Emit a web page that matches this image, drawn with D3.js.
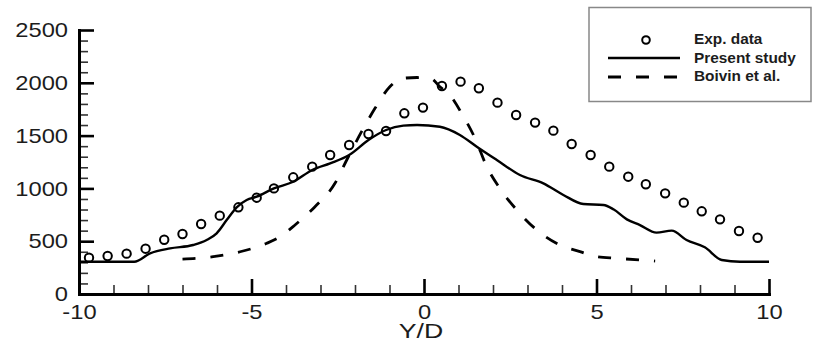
<!DOCTYPE html>
<html>
<head>
<meta charset="utf-8">
<script src="https://cdn.jsdelivr.net/npm/d3@7"></script>
<style>
  html, body { margin: 0; padding: 0; background: #fff; }
  svg { display: block; }
  text { font-family: "Liberation Sans", Arial, Helvetica, sans-serif; fill: #1c1c1c; }
</style>
</head>
<body>
<svg id="chart" width="813" height="353"></svg>
<script>
// Experimental measurements (Y/D, value)
const expY = [-9.71, -9.17, -8.62, -8.07, -7.53, -7.0, -6.46, -5.92, -5.38, -4.85, -4.35, -3.79, -3.24, -2.72, -2.17, -1.61, -1.10, -0.57, -0.03, 0.52, 1.06, 1.59, 2.13, 2.67, 3.22, 3.75, 4.28, 4.83, 5.37, 5.92, 6.43, 6.99, 7.53, 8.05, 8.58, 9.13, 9.67];
const expV = [344, 360, 382, 429, 514, 568, 663, 742, 821, 912, 1000, 1105, 1206, 1316, 1411, 1515, 1544, 1711, 1765, 1970, 2011, 1948, 1812, 1695, 1623, 1547, 1420, 1316, 1206, 1111, 1039, 953, 865, 783, 707, 597, 533];

// Present study profile
const presY = [-10, -8.4, -7.94, -7.36, -6.69, -6.3, -6.01, -5.72, -5.43, -5.14, -4.85, -4.35, -3.79, -3.24, -2.72, -2.17, -1.61, -1.1, -0.6, -0.2, 0.46, 1.04, 1.53, 2.11, 2.78, 3.46, 4.04, 4.62, 5.2, 5.49, 5.88, 6.26, 6.74, 7.18, 7.61, 8.14, 8.63, 9.16, 10];
const presV = [306, 306, 385, 432, 464, 511, 575, 700, 821, 890, 922, 1000, 1063, 1174, 1237, 1316, 1458, 1553, 1594, 1600, 1584, 1506, 1395, 1269, 1127, 1048, 938, 852, 843, 802, 707, 653, 581, 600, 511, 442, 322, 306, 306];

// Boivin et al. profile
const boivY = [-7.0, -6.11, -5.33, -4.56, -4.17, -3.74, -3.16, -2.58, -2.24, -1.81, -1.42, -0.99, -0.6, -0.2, 0.2, 0.46, 0.75, 1.09, 1.48, 1.82, 2.2, 2.69, 3.27, 3.94, 4.52, 5.0, 5.59, 6.7];
const boivV = [331, 353, 400, 480, 543, 653, 827, 1048, 1269, 1537, 1758, 1963, 2043, 2050, 2040, 1963, 1884, 1711, 1474, 1206, 1000, 795, 606, 464, 401, 353, 338, 312];

const xTicks = [-10, -5, 0, 5, 10];
const yTicks = [0, 500, 1000, 1500, 2000, 2500];
const legendLabels = ["Exp. data", "Present study", "Boivin et al."];
const xLabel = "Y/D";

const svg = d3.select("#chart");
const x = d3.scaleLinear().domain([-10, 10]).range([79, 769]);
const y = d3.scaleLinear().domain([0, 2500]).range([294, 30]);

const stretch = "scale(1.13,1)";

// minor ticks
const xMinor = d3.range(-10, 10.001, 1).filter(v => !xTicks.includes(v));
const yMinor = d3.range(0, 2500.001, 100).filter(v => !yTicks.includes(v));

const gxMinor = svg.append("g").attr("transform", `translate(0,${y(0)})`)
  .call(d3.axisBottom(x).tickValues(xMinor).tickSizeInner(-9).tickSizeOuter(0).tickFormat(""));
const gyMinor = svg.append("g").attr("transform", `translate(${x(-10)},0)`)
  .call(d3.axisLeft(y).tickValues(yMinor).tickSizeInner(-9).tickSizeOuter(0).tickFormat(""));
[gxMinor, gyMinor].forEach(g => {
  g.select(".domain").remove();
  g.selectAll(".tick line").attr("stroke", "#333").attr("stroke-width", 1.6);
});

// major axes
const gx = svg.append("g").attr("transform", `translate(0,${y(0)})`)
  .call(d3.axisBottom(x).tickValues(xTicks).tickSizeInner(-15).tickSizeOuter(0).tickPadding(10).tickFormat(d3.format("d")));
const gy = svg.append("g").attr("transform", `translate(${x(-10)},0)`)
  .call(d3.axisLeft(y).tickValues(yTicks).tickSizeInner(-15).tickSizeOuter(0).tickPadding(9.7).tickFormat(d3.format("d")));
[gx, gy].forEach(g => {
  g.select(".domain").attr("stroke", "#000").attr("stroke-width", 3).attr("stroke-linecap", "square");
  g.selectAll(".tick line").attr("stroke", "#000").attr("stroke-width", 2.6);
  g.selectAll(".tick text").attr("font-size", 21).attr("fill", "#1c1c1c")
    .style("font-family", "'Liberation Sans', Arial, sans-serif").attr("transform", stretch);
});
gx.selectAll(".tick text").text(d => d < 0 ? "-" + Math.abs(d) : d);

// axis title
const titleX = 421;
svg.append("text").attr("x", titleX).attr("y", 338).attr("text-anchor", "middle")
  .attr("font-size", 21).attr("transform", `translate(${titleX},0) scale(1.27,1) translate(${-titleX},0)`)
  .text(xLabel);

// curves
const line = d3.line().x(d => x(d[0])).y(d => y(d[1])).curve(d3.curveMonotoneX);
const presData = presY.map((v, i) => [v, presV[i]]);
const boivData = boivY.map((v, i) => [v, boivV[i]]);

svg.append("path").datum(boivData).attr("d", line)
  .attr("fill", "none").attr("stroke", "#000").attr("stroke-width", 2.8)
  .attr("stroke-dasharray", "13,15");
svg.append("path").datum(presData).attr("d", line)
  .attr("fill", "none").attr("stroke", "#000").attr("stroke-width", 2.4);

svg.append("g").selectAll("circle").data(expY.map((v, i) => [v, expV[i]])).join("circle")
  .attr("cx", d => x(d[0])).attr("cy", d => y(d[1])).attr("r", 4.2)
  .attr("fill", "none").attr("stroke", "#000").attr("stroke-width", 2);

// legend
const lg = svg.append("g");
lg.append("rect").attr("x", 589).attr("y", 7.5).attr("width", 222).attr("height", 94)
  .attr("fill", "#fff").attr("stroke", "#888").attr("stroke-width", 1.5);
lg.append("circle").attr("cx", 646).attr("cy", 40).attr("r", 3.8)
  .attr("fill", "none").attr("stroke", "#000").attr("stroke-width", 2);
lg.append("line").attr("x1", 608).attr("x2", 680).attr("y1", 58).attr("y2", 58)
  .attr("stroke", "#000").attr("stroke-width", 2.6);
lg.append("line").attr("x1", 608).attr("x2", 680).attr("y1", 77).attr("y2", 77)
  .attr("stroke", "#000").attr("stroke-width", 2.8).attr("stroke-dasharray", "13,15");
const baselines = [44.5, 63, 81.5];
legendLabels.forEach((t, i) => {
  lg.append("text").attr("x", 694).attr("y", baselines[i])
    .attr("font-size", 14).attr("font-weight", "bold")
    .attr("transform", `translate(694,0) scale(1.1,1) translate(-694,0)`)
    .text(t);
});
</script>
</body>
</html>
